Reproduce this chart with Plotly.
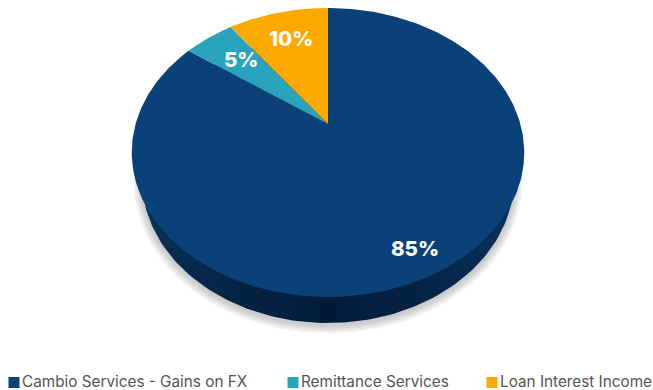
import numpy as np
import plotly.graph_objects as go

# Revenue mix
categories = ["Cambio Services - Gains on FX", "Remittance Services", "Loan Interest Income"]
values = [85, 5, 10]
colors = ["#0A4178", "#2AA3BC", "#FDA900"]
value_labels = ["85%", "5%", "10%"]

# Canvas and tilted-disc geometry, in pixels
W, H = 653, 390
APEX_X, APEX_Y = 328, 124
SCALE_X, SCALE_Y, TILT = 192.4, 138.9, 0.197
BASE_CX, BASE_CY, BASE_RX, BASE_RY = 328, 179, 186, 144

# Label and legend placement
label_pos = [(415, 248), (241, 59), (291, 38)]
legend_x = [8, 287, 486]
legend_y = 382
legend_font = dict(family="Inter, sans-serif", size=15.3, color="#555555")


def project(theta):
    """Map a clockwise angle from 12 o'clock on the disc to the tilted view."""
    u, v = np.sin(theta), np.cos(theta)
    d = 1 + TILT * v
    return APEX_X + SCALE_X * u / d, APEX_Y - SCALE_Y * v / d


fig = go.Figure()

# Soft shadow under the disc
t = np.linspace(0, 2 * np.pi, 240)
for grow in range(9, 0, -1):
    fig.add_trace(go.Scatter(
        x=BASE_CX + (BASE_RX + grow) * np.cos(t),
        y=BASE_CY + 2 + (BASE_RY + grow) * np.sin(t),
        mode="lines", line=dict(width=0), fill="toself",
        fillcolor="rgba(60,60,60,0.03)", hoverinfo="skip", showlegend=False,
    ))

# Side wall, darkest in the middle
fig.add_trace(go.Scatter(
    x=BASE_CX + BASE_RX * np.cos(t),
    y=BASE_CY + BASE_RY * np.sin(t),
    mode="lines", line=dict(width=0), fill="toself",
    fillgradient=dict(type="horizontal", colorscale=[
        [0.0, "#0A3057"], [0.2, "#062548"], [0.5, "#021A38"],
        [0.8, "#062548"], [1.0, "#0A3057"],
    ]),
    hoverinfo="skip", showlegend=False,
))

# Top face: one wedge per category, clockwise from 12 o'clock
shares = np.array(values, dtype=float) / sum(values)
edges = np.concatenate([[0], np.cumsum(shares)]) * 2 * np.pi
for i, name in enumerate(categories):
    arc = np.linspace(edges[i], edges[i + 1], max(int(shares[i] * 400), 12))
    ax, ay = project(arc)
    fig.add_trace(go.Scatter(
        x=np.concatenate([[APEX_X], ax, [APEX_X]]),
        y=np.concatenate([[APEX_Y], ay, [APEX_Y]]),
        mode="lines", line=dict(width=0), fill="toself", fillcolor=colors[i],
        hoverinfo="skip", showlegend=False,
    ))

# Value labels on the wedges
for (lx, ly), text in zip(label_pos, value_labels):
    fig.add_annotation(x=lx, y=ly, text=text, showarrow=False,
                       font=dict(family="Inter, sans-serif", size=20.5, weight=800, color="white"))

# Legend row
fig.add_trace(go.Scatter(
    x=[lx + 6 for lx in legend_x], y=[legend_y + 0.5] * 3, mode="markers",
    marker=dict(symbol="square", size=11, color=colors),
    hoverinfo="skip", showlegend=False,
))
for lx, name in zip(legend_x, categories):
    fig.add_annotation(x=lx + 12, y=legend_y - 1, text=name, showarrow=False,
                       xanchor="left", font=legend_font)

fig.update_layout(
    width=W, height=H, margin=dict(l=0, r=0, t=0, b=0),
    paper_bgcolor="white", plot_bgcolor="white",
    xaxis=dict(range=[0, W], visible=False, fixedrange=True),
    yaxis=dict(range=[H, 0], visible=False, fixedrange=True),
)
fig.write_html("out.html", config=dict(displayModeBar=False))
